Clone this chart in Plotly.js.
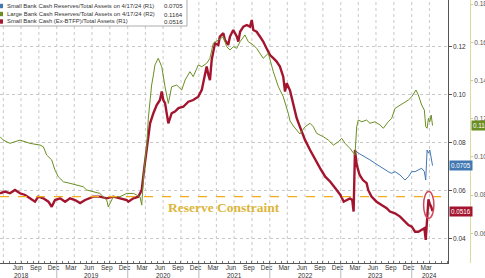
<!DOCTYPE html>
<html><head><meta charset="utf-8">
<script src="https://cdn.plot.ly/plotly-3.0.1.min.js"></script>
<style>html,body{margin:0;padding:0;background:#fff;}#chart{width:485px;height:278px;}</style>
</head><body><div id="chart"></div>
<script>
// ---------- DATA ----------
const largeDates = ['2018-03-15','2018-04-01','2018-05-05','2018-06-26','2018-08-16','2018-10-07','2018-10-24','2018-11-10','2018-12-06','2018-12-23',
'2019-01-09','2019-02-04','2019-03-10','2019-04-14','2019-05-17','2019-06-04','2019-07-08','2019-08-11','2019-09-15','2019-09-23','2019-10-19','2019-11-22','2019-12-27',
'2020-01-30','2020-03-04','2020-03-13','2020-03-25','2020-04-08','2020-04-16','2020-04-25','2020-05-03','2020-05-12','2020-05-20','2020-06-06','2020-06-24','2020-07-11','2020-07-28','2020-08-14','2020-09-09','2020-10-05','2020-10-22','2020-11-16','2020-12-03','2020-12-29',
'2021-01-16','2021-02-10','2021-02-27','2021-03-16','2021-04-11','2021-05-07','2021-05-24','2021-06-10','2021-06-27','2021-07-15','2021-08-01','2021-08-26','2021-09-12','2021-10-08','2021-10-25','2021-11-28','2021-12-24',
'2022-01-19','2022-02-14','2022-03-11','2022-04-06','2022-04-15','2022-05-02','2022-05-19','2022-06-05','2022-07-01','2022-07-27','2022-08-13','2022-08-30','2022-10-03','2022-10-29','2022-11-24','2022-12-19',
'2023-01-06','2023-01-23','2023-02-17','2023-03-06','2023-03-15','2023-03-24','2023-04-01','2023-04-19','2023-05-14','2023-05-31','2023-06-26','2023-07-22','2023-08-08','2023-09-02','2023-09-20','2023-10-07','2023-11-02','2023-11-27','2023-12-15',
'2024-01-01','2024-01-23','2024-02-04','2024-02-21','2024-03-06','2024-03-13','2024-03-20','2024-03-27','2024-04-03','2024-04-10','2024-04-17'];
const largeVals = [0.1106,0.1088,0.1071,0.1088,0.1071,0.1062,0.1053,0.1010,0.0984,0.0931,
0.0896,0.0870,0.0862,0.0853,0.0844,0.0827,0.0818,0.0809,0.0774,0.0739,0.0792,0.0792,0.0809,
0.0809,0.0792,0.0748,0.0931,0.1062,0.1203,0.1298,0.1376,0.1428,0.1481,0.1516,0.1472,0.1367,0.1280,0.1367,0.1376,0.1350,0.1402,0.1446,0.1420,0.1481,
0.1472,0.1490,0.1516,0.1594,0.1612,0.1629,0.1577,0.1559,0.1577,0.1568,0.1603,0.1638,0.1603,0.1586,0.1568,0.1516,0.1542,
0.1446,0.1367,0.1315,0.1228,0.1188,0.1162,0.1141,0.1120,0.1158,0.1176,0.1158,0.1123,0.1106,0.1088,0.1062,0.1079,
0.1097,0.1071,0.1045,0.1019,0.1010,0.1158,0.1193,0.1184,0.1193,0.1176,0.1184,0.1167,0.1150,0.1184,0.1202,0.1254,0.1272,0.1289,0.1298,
0.1315,0.1350,0.1324,0.1272,0.1245,0.1158,0.1150,0.1202,0.1184,0.1219,0.1164];

const exBtfpDates = ['2018-03-15','2018-04-10','2018-05-05','2018-05-31','2018-06-26','2018-07-22','2018-08-16','2018-09-11','2018-09-28','2018-10-24','2018-11-19','2018-12-06','2018-12-23',
'2019-01-18','2019-02-13','2019-03-10','2019-04-05','2019-05-01','2019-05-27','2019-06-22','2019-07-08','2019-08-11','2019-09-15','2019-10-19','2019-11-22','2019-12-27',
'2020-01-04','2020-01-30','2020-02-25','2020-03-13','2020-03-25','2020-04-08','2020-04-25','2020-05-12','2020-05-29','2020-06-15','2020-06-24','2020-07-02','2020-07-11','2020-07-28','2020-08-14','2020-08-31','2020-09-18','2020-10-13','2020-11-08','2020-12-03','2020-12-29',
'2021-01-16','2021-02-02','2021-02-10','2021-02-19','2021-02-27','2021-03-08','2021-03-16','2021-03-25','2021-04-11','2021-04-19','2021-05-07','2021-05-15','2021-06-01','2021-06-10','2021-06-27','2021-07-15','2021-07-23','2021-08-01','2021-08-18','2021-09-04','2021-09-21','2021-09-30','2021-10-08','2021-10-25','2021-11-11','2021-11-28','2021-12-15',
'2022-01-02','2022-01-19','2022-02-05','2022-02-22','2022-03-11','2022-03-20','2022-03-29','2022-04-15','2022-05-02','2022-05-19','2022-06-05','2022-07-01','2022-07-27','2022-08-22','2022-09-17','2022-10-13','2022-11-08','2022-12-04','2022-12-30',
'2023-01-16','2023-02-03','2023-02-17','2023-03-01','2023-03-08','2023-03-15','2023-03-24','2023-04-08','2023-04-25','2023-05-14','2023-05-22','2023-06-08','2023-07-04','2023-07-30','2023-08-25','2023-09-11','2023-10-07','2023-11-02','2023-11-27','2023-12-15',
'2024-01-01','2024-01-18','2024-02-04','2024-02-21','2024-03-06','2024-03-13','2024-03-20','2024-03-27','2024-04-03','2024-04-10','2024-04-17'];
const exBtfpVals = [0.0590,0.0597,0.0590,0.0604,0.0590,0.0583,0.0569,0.0555,0.0576,0.0569,0.0555,0.0534,0.0562,
0.0569,0.0555,0.0569,0.0562,0.0549,0.0562,0.0569,0.0576,0.0576,0.0569,0.0576,0.0569,0.0562,
0.0555,0.0569,0.0576,0.0604,0.0687,0.0783,0.0881,0.0923,0.0957,0.0978,0.1013,0.0978,0.0965,0.0881,0.0923,0.0930,0.0944,0.0950,0.0971,0.0978,0.0992,
0.1020,0.1096,0.1117,0.1082,0.1061,0.1145,0.1186,0.1214,0.1207,0.1242,0.1256,0.1228,0.1207,0.1242,0.1269,0.1242,0.1221,0.1262,0.1283,0.1290,0.1283,0.1311,0.1269,0.1262,0.1242,0.1221,0.1193,
0.1165,0.1152,0.1138,0.1117,0.1075,0.1013,0.1048,0.1017,0.0957,0.0903,0.0866,0.0812,0.0770,0.0729,0.0694,0.0659,0.0638,0.0611,0.0583,
0.0555,0.0562,0.0569,0.0562,0.0514,0.0770,0.0708,0.0666,0.0645,0.0632,0.0604,0.0576,0.0555,0.0541,0.0528,0.0514,0.0507,0.0493,0.0472,0.0458,
0.0451,0.0430,0.0430,0.0437,0.0445,0.0396,0.0507,0.0565,0.0545,0.0534,0.0516];

const smallDates = ['2023-03-15','2023-04-01','2023-04-19','2023-05-06','2023-05-31','2023-06-26','2023-07-22','2023-08-08','2023-09-02','2023-09-20','2023-10-07','2023-11-02','2023-11-27','2023-12-15',
'2024-01-01','2024-01-18','2024-02-04','2024-02-21','2024-03-06','2024-03-13','2024-03-20','2024-03-27','2024-04-03','2024-04-10','2024-04-17'];
const smallVals = [0.0770,0.0757,0.0749,0.0742,0.0729,0.0715,0.0701,0.0694,0.0680,0.0673,0.0680,0.0666,0.0645,0.0659,
0.0680,0.0680,0.0687,0.0694,0.0680,0.0645,0.0770,0.0757,0.0770,0.0742,0.0705];

const legendNames = ['Small Bank Cash Reserves/Total Assets on 4/17/24 (R1)',
                     'Large Bank Cash Reserves/Total Assets on 4/17/24 (R2)',
                     'Small Bank Cash (Ex-BTFP)/Total Assets (R1)'];
const legendValues = ['0.0705','0.1164','0.0516'];
const monthLabels = ['Mar','Jun','Sep','Dec'];
const monthNums = [3,6,9,12];
const years = [2018,2019,2020,2021,2022,2023,2024];
const r1Ticks = [0.04,0.06,0.08,0.10,0.12];
const r2Ticks = [0.06,0.08,0.10,0.12,0.14,0.16,0.18];
const constraintLevel = 0.0576;
const constraintLabel = 'Reserve Constraint';

// ---------- STYLE ----------
const COL = {small:'#4178b2', large:'#6b8e23', ex:'#a3152f'};
const FONT = 'Liberation Sans, Arial, sans-serif';
const W = 485, H = 278, PB = 15;
const plotH = H - PB;
const xStart = '2018-03-15', xEnd = '2024-07-04';
const xDomEnd = 447.7 / W;

const tickvals = [], ticktext = [];
years.forEach(y => monthNums.forEach((m, i) => {
  const d = y + '-' + String(m).padStart(2,'0') + '-15';
  if (d >= xStart && d <= '2024-04-30') { tickvals.push(d); ticktext.push(monthLabels[i]); }
}));

const shapes = [];
years.forEach(y => ['01','04','07','10'].forEach(m => {
  const d = y + '-' + m + '-01';
  if (d > xStart && d < '2024-06-30') shapes.push({type:'line', xref:'x', yref:'paper', x0:d, x1:d, y0:0, y1:1,
    line:{color:'#c9c9c9', width:1, dash:'dot'}, layer:'below'});
}));
years.slice(1).forEach(y => shapes.push({type:'line', xref:'x', yref:'paper', x0:y+'-01-01', x1:y+'-01-01',
  y0:-1/plotH, y1:-15/plotH, line:{color:'#bbbbbb', width:1}}));
shapes.push({type:'line', xref:'paper', yref:'y', x0:0, x1:xDomEnd, y0:constraintLevel, y1:constraintLevel,
  line:{color:'#f0ae1e', width:1.3, dash:'dash'}});
shapes.push({type:'circle', xref:'x', yref:'y', x0:'2024-03-02', x1:'2024-04-24', y0:0.0486, y1:0.0597,
  line:{color:'#d4485c', width:1.5}});
const rowsPx = [6, 14, 21.5];
shapes.push({type:'rect', xref:'paper', yref:'paper', x0:-0.01, x1:187/W, y0:1-26/plotH, y1:1.01,
  fillcolor:'#ffffff', line:{color:'#9a9a9a', width:0.8}, layer:'above'});
const legColors = [COL.small, COL.large, COL.ex];
const annotations = [];
legendNames.forEach((n, i) => {
  const yy = 1 - rowsPx[i]/plotH;
  shapes.push({type:'rect', xref:'paper', yref:'paper', x0:0, x1:3/W, y0:yy-2.2/plotH, y1:yy+2.2/plotH,
    fillcolor:legColors[i], line:{width:0}, layer:'above'});
  annotations.push({xref:'paper', yref:'paper', x:4.5/W, y:yy, xanchor:'left', yanchor:'middle', showarrow:false,
    text:n, font:{family:FONT, size:5.9, color:'#333'}});
  annotations.push({xref:'paper', yref:'paper', x:185/W, y:yy, xanchor:'right', yanchor:'middle', showarrow:false,
    text:legendValues[i], font:{family:FONT, size:6.1, color:'#333'}});
});
years.forEach((y, i) => {
  let xd = y + '-07-01';
  if (y === years[years.length-1]) {
    const a = Date.parse(y + '-01-01'), b = Date.parse(xEnd);
    xd = new Date((a + b) / 2).toISOString().slice(0,10);
  }
  annotations.push({xref:'x', yref:'paper', x:xd, y:-12/plotH, yanchor:'middle', showarrow:false,
    text:String(y), font:{family:FONT, size:6.5, color:'#333'}});
});
annotations.push({xref:'paper', yref:'y', x:449/W, y:parseFloat(legendValues[0]), xanchor:'left', yanchor:'middle',
  showarrow:false, text:legendValues[0], bgcolor:COL.small, borderpad:1, font:{family:FONT, size:6.3, color:'#fff'}});
annotations.push({xref:'paper', yref:'y2', x:471/W, y:parseFloat(legendValues[1]), xanchor:'left', yanchor:'middle',
  showarrow:false, text:legendValues[1], bgcolor:COL.large, borderpad:1, font:{family:FONT, size:6.3, color:'#fff'}});
annotations.push({xref:'paper', yref:'y', x:449/W, y:parseFloat(legendValues[2]), xanchor:'left', yanchor:'middle',
  showarrow:false, text:legendValues[2], bgcolor:COL.ex, borderpad:1, font:{family:FONT, size:6.3, color:'#fff'}});
annotations.push({xref:'paper', yref:'paper', x:224/W, y:1-207/plotH, xanchor:'center', yanchor:'middle', showarrow:false,
  text:'<b>' + constraintLabel + '</b>', font:{family:'Liberation Serif, serif', size:13.5, color:'#dcb63c'}});

const traces = [
  {x:largeDates, y:largeVals, yaxis:'y2', type:'scatter', mode:'lines', name:legendNames[1], line:{color:COL.large, width:1}},
  {x:smallDates, y:smallVals, yaxis:'y', type:'scatter', mode:'lines', name:legendNames[0], line:{color:COL.small, width:1}},
  {x:exBtfpDates, y:exBtfpVals, yaxis:'y', type:'scatter', mode:'lines', name:legendNames[2], line:{color:COL.ex, width:2.4}}
];

const layout = {
  width:W, height:H, margin:{l:0, r:0, t:0, b:PB, pad:0, autoexpand:false},
  paper_bgcolor:'#fff', plot_bgcolor:'#fff', showlegend:false,
  xaxis:{type:'date', range:[xStart, xEnd], domain:[0, xDomEnd], automargin:false, showline:true, linecolor:'#555', linewidth:1,
    tickmode:'array', tickvals:tickvals, ticktext:ticktext, ticks:'', showgrid:false, zeroline:false,
    tickfont:{family:FONT, size:6.5, color:'#333'}, ticklabelstandoff:-2,
    minor:{ticks:'inside', ticklen:2, tickcolor:'#777', dtick:'M1', tick0:'2018-01-01', showgrid:false}},
  yaxis:{range:[0.0300, 0.1394], side:'right', anchor:'x', automargin:false, showline:true, linecolor:'#555', linewidth:1,
    ticks:'outside', ticklen:3, tickcolor:'#555', tickmode:'array', tickvals:r1Ticks, tickformat:'.2f',
    showgrid:true, gridcolor:'#c9c9c9', griddash:'dot', zeroline:false,
    tickfont:{family:FONT, size:6.5, color:'#333'}},
  yaxis2:{range:[0.0445, 0.1821], overlaying:'y', side:'right', anchor:'free', position:470/W, automargin:false,
    showline:true, linecolor:'#d8dc9c', linewidth:1, ticks:'outside', ticklen:2, tickcolor:'#c8cc88',
    tickmode:'array', tickvals:r2Ticks, tickformat:'.2f', showgrid:false, zeroline:false,
    tickfont:{family:FONT, size:6.5, color:'#555'}},
  shapes:shapes, annotations:annotations
};
Plotly.newPlot('chart', traces, layout, {displayModeBar:false, staticPlot:true});
</script>
</body></html>
